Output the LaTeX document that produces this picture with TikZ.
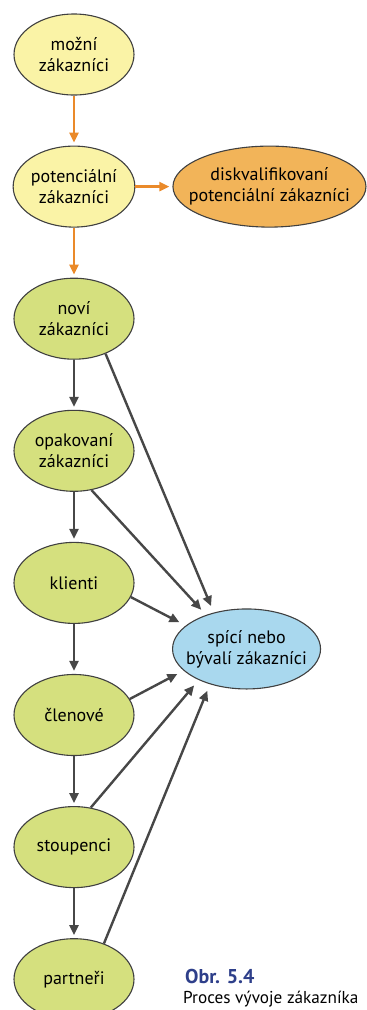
\documentclass[tikz,border=0pt]{standalone}
\usepackage{fontspec}
\setmainfont{PT Sans}
\usepackage{xcolor}
\usetikzlibrary{arrows.meta,positioning,shapes.geometric,calc}

\definecolor{ellyellow}{HTML}{FAF3A6}
\definecolor{ellorange}{HTML}{F2B459}
\definecolor{ellgreen}{HTML}{D5E07E}
\definecolor{ellblue}{HTML}{A9D8EE}
\definecolor{arrorange}{HTML}{EA8A2A}
\definecolor{arrgray}{HTML}{474747}
\definecolor{capblue}{HTML}{2E3F8A}

\begin{document}
\begin{tikzpicture}[
  x=1pt, y=1pt,
  >={Triangle[length=10pt,width=9pt]},
  node distance=50pt and 37pt,
  ell/.style={ellipse, draw=black!75, line width=1.1pt, minimum width=120pt,
    minimum height=81pt, inner sep=0pt, align=center,
    font=\fontsize{18}{21}\selectfont},
  yellowell/.style={ell, fill=ellyellow},
  orangeell/.style={ell, fill=ellorange, minimum width=193pt, inner xsep=-20pt},
  greenell/.style={ell, fill=ellgreen},
  blueell/.style={ell, fill=ellblue, minimum width=148pt, minimum height=80pt,
    inner xsep=-12pt},
  orarr/.style={->, line width=2.4pt, color=arrorange, shorten >=3pt},
  grarr/.style={->, line width=2.4pt, color=arrgray, shorten >=3pt},
  toarr/.style={grarr, shorten >=7pt},
  captext/.style={anchor=base west, inner sep=0pt},
]
\path[use as bounding box] (0,0) rectangle (367,-1010);

% Prospects
\node[yellowell] (mozni) at (74,-54.5) {možní\\zákazníci};
\node[yellowell, below=of mozni] (potenc) {potenciální\\zákazníci};
\node[orangeell, right=of potenc] (diskval) {diskvalifikovaní\\potenciální zákazníci};

% Customer chain
\node[greenell, below=of potenc] (novi) {noví\\zákazníci};
\node[greenell, below=of novi] (opak) {opakovaní\\zákazníci};
\node[greenell, below=of opak] (klienti) {klienti};
\node[greenell, below=of klienti] (clenove) {členové};
\node[greenell, below=of clenove] (stoup) {stoupenci};
\node[greenell, below=of stoup] (partneri) {partneři};

% Lapsed customers
\node[blueell, right=98pt of $(klienti)!0.5!(clenove)$] (spici) {spící nebo\\bývalí zákazníci};

% Caption
\node[captext, text=capblue, font=\fontsize{20}{22}\selectfont\bfseries] (obr) at (185,-983) {Obr. 5.4};
\node[captext, font=\fontsize{17.2}{20}\selectfont] (proces) at (183,-1003) {Proces vývoje zákazníka};

% Arrows
\draw[orarr] (mozni) -- (potenc);
\draw[orarr] (potenc) -- (diskval);
\draw[orarr] (potenc) -- (novi);
\draw[grarr] (novi) -- (opak);
\draw[grarr] (opak) -- (klienti);
\draw[grarr] (klienti) -- (clenove);
\draw[grarr] (clenove) -- (stoup);
\draw[grarr] (stoup) -- (partneri);
\draw[toarr] (novi.-48) -- (spici.132);
\draw[toarr] (opak.-66) -- (spici.140);
\draw[toarr] (klienti.-14) -- (spici.159);
\draw[toarr] (clenove.16) -- (spici.199);
\draw[toarr] (stoup.67) -- (spici.213);
\draw[toarr] (partneri.50) -- (spici.224);
\end{tikzpicture}
\end{document}
